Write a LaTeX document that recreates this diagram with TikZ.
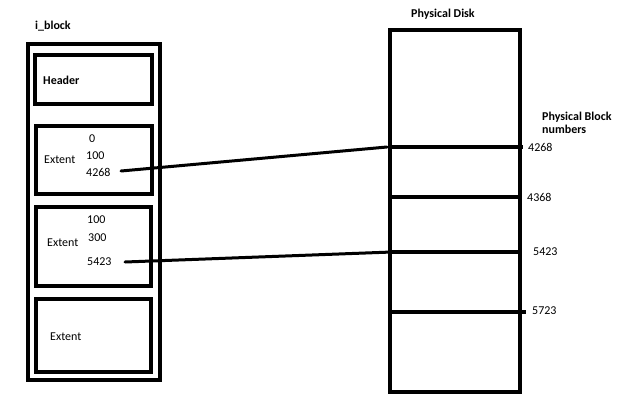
\documentclass[tikz,border=0pt]{standalone}
\usepackage{fontspec}
\setmainfont{Carlito}
\begin{document}
\begin{tikzpicture}[x=1pt,y=-1pt,
  box/.style={draw,line width=4pt,inner sep=0pt},
  lbl/.style={font=\fontsize{12}{13.5}\selectfont,inner sep=0pt,anchor=west},
  blbl/.style={lbl,font=\bfseries\fontsize{12}{13.5}\selectfont},
  link/.style={line width=3pt,line cap=round},
  tick/.style={line width=4pt}]
\useasboundingbox (0,0) rectangle (640,400);
% i_block
\node[blbl] (tib) at (35,26) {i\_block};
\node[box,line width=3.5pt,minimum width=132pt,minimum height=336pt] (outer) at (94,212) {};
\node[box,minimum width=117pt,minimum height=49pt] (hdr) at (93.5,79.5) {};
\node[box,minimum width=116pt,minimum height=68pt] (e1) at (94,160) {};
\node[box,minimum width=115pt,minimum height=79pt] (e2) at (93.5,246.5) {};
\node[box,minimum width=115pt,minimum height=73pt] (e3) at (93.5,335.5) {};
\node[blbl] (thdr) at (43,80) {Header};
\node[lbl] (te1) at (44,160) {Extent};
\node[lbl] (a0) at (89,139) {0};
\node[lbl] (a100) at (86,156) {100};
\node[lbl] (a4268) at (86,172) {4268};
\node[lbl] (te2) at (47,243) {Extent};
\node[lbl] (b100) at (87,220) {100};
\node[lbl] (b300) at (88,238) {300};
\node[lbl] (b5423) at (87,262) {5423};
\node[lbl] (te3) at (50,337) {Extent};
% disk
\node[blbl] (tdisk) at (411,14) {Physical Disk};
\node[box,line width=3.5pt,minimum width=130pt,minimum height=362pt] (disk) at (455,211) {};
\coordinate (l1a) at (390,147); \coordinate (l1b) at (523,147);
\coordinate (l2a) at (390,197); \coordinate (l2b) at (520,197);
\coordinate (l3a) at (390,252); \coordinate (l3b) at (522,252);
\coordinate (l4a) at (390,312); \coordinate (l4b) at (526,312);
\draw[tick] (l1a) -- (l1b);
\draw[tick] (l2a) -- (l2b);
\draw[tick] (l3a) -- (l3b);
\draw[tick] (l4a) -- (l4b);
\node[blbl,align=left] (tpbn) at (542,123) {Physical Block\\numbers};
\node[lbl] (n4268) at (528,147) {4268};
\node[lbl] (n4368) at (527,197) {4368};
\node[lbl] (n5423) at (533,252) {5423};
\node[lbl] (n5723) at (532,311) {5723};
% connectors
\coordinate (c1) at (121,171);
\coordinate (c2) at (125,262);
\coordinate (d1) at (387,147);
\coordinate (d2) at (392,252);
\draw[link] (c1) -- (d1);
\draw[link] (c2) -- (d2);
\end{tikzpicture}
\end{document}
